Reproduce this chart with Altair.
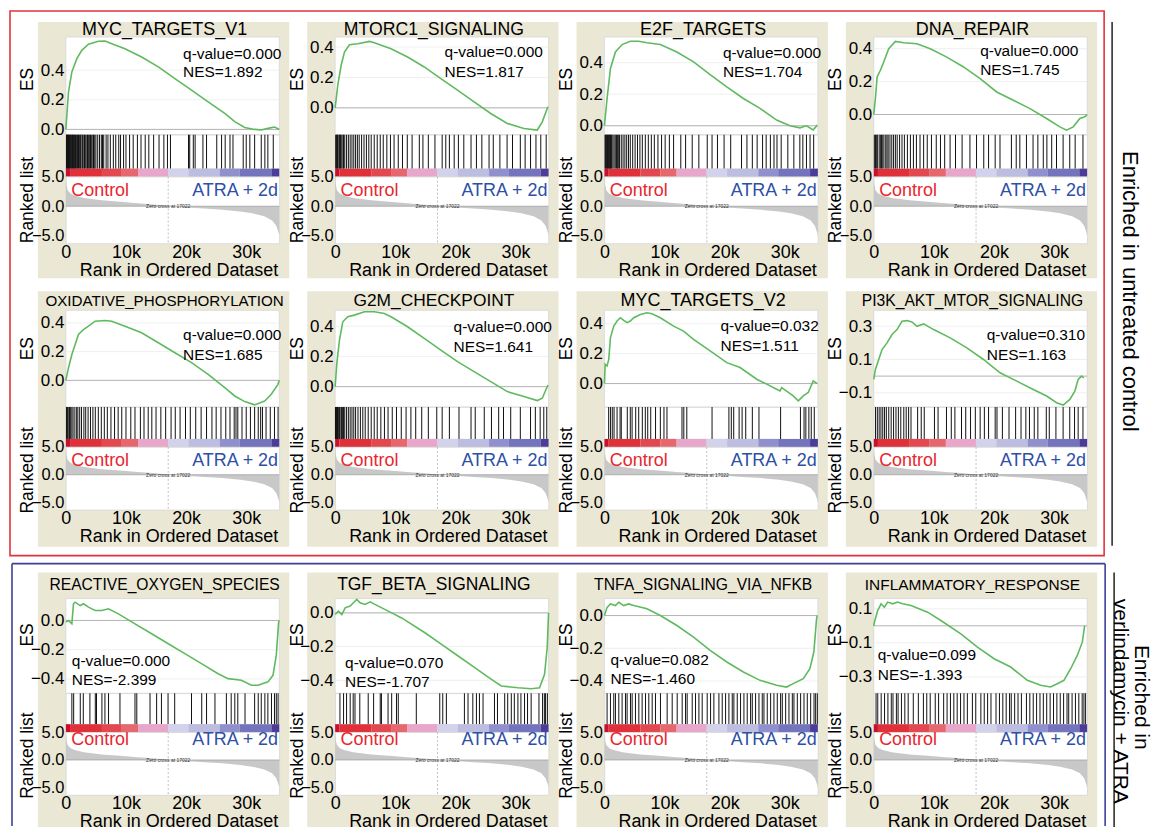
import altair as alt
import pandas as pd

# ---------------- data ----------------
N_GENES_K = 35.5          # length of the ranked list (thousands)
ZERO_CROSS_K = 17.022     # zero cross of the ranked metric (thousands)

PANEL_NAMES = ["MYC_TARGETS_V1", "MTORC1_SIGNALING", "E2F_TARGETS", "DNA_REPAIR",
               "OXIDATIVE_PHOSPHORYLATION", "G2M_CHECKPOINT", "MYC_TARGETS_V2", "PI3K_AKT_MTOR_SIGNALING",
               "REACTIVE_OXYGEN_SPECIES", "TGF_BETA_SIGNALING", "TNFA_SIGNALING_VIA_NFKB", "INFLAMMATORY_RESPONSE"]
Q_VALUES = ["0.000", "0.000", "0.000", "0.000", "0.000", "0.000", "0.032", "0.310",
            "0.000", "0.070", "0.082", "0.099"]
NES_VALUES = ["1.892", "1.817", "1.704", "1.745", "1.685", "1.641", "1.511", "1.163",
              "-2.399", "-1.707", "-1.460", "-1.393"]

# running enrichment score: (rank in thousands, ES)
ES_MYC_V1 = [(0, 0), (0.44, 0.254), (1.0, 0.388), (1.83, 0.478), (2.65, 0.534), (3.76, 0.575), (5.42, 0.595),
             (6.52, 0.597), (7.63, 0.579), (9.84, 0.545), (12.6, 0.489), (15.38, 0.422), (18.14, 0.343),
             (20.9, 0.265), (23.67, 0.186), (26.43, 0.108), (28.09, 0.052), (29.75, 0.013), (31.4, 0.0),
             (32.5, -0.004), (33.62, 0.007), (34.2, 0.012), (34.73, 0.016), (35.5, 0.0)]
ES_MTORC1 = [(0, 0), (0.44, 0.149), (1.0, 0.28), (1.55, 0.367), (2.38, 0.415), (3.76, 0.422), (5.7, 0.437),
             (6.53, 0.428), (9.29, 0.389), (12.05, 0.334), (14.82, 0.269), (17.58, 0.192), (20.35, 0.116),
             (23.11, 0.039), (25.88, -0.037), (28.64, -0.103), (31.4, -0.136), (33.62, -0.146),
             (34.45, -0.092), (35.39, 0.007)]
ES_E2F = [(0, 0), (0.44, 0.173), (1.0, 0.363), (1.83, 0.468), (2.93, 0.515), (4.31, 0.536), (5.7, 0.536),
          (7.08, 0.527), (9.29, 0.515), (12.05, 0.468), (14.82, 0.405), (17.58, 0.325), (20.35, 0.247),
          (23.11, 0.173), (25.88, 0.11), (28.64, 0.036), (30.86, 0.0), (32.52, -0.013), (33.2, -0.004),
          (33.62, 0.0), (34.72, -0.027), (35.39, 0.004)]
ES_DNA_REPAIR = [(0, 0), (0.28, 0.097), (0.56, 0.228), (1.11, 0.269), (1.66, 0.319), (2.49, 0.4), (3.6, 0.444),
                 (4.98, 0.436), (7.18, 0.43), (9.4, 0.4), (12.16, 0.349), (14.93, 0.289), (17.7, 0.218),
                 (20.45, 0.137), (23.22, 0.087), (25.99, 0.036), (28.75, -0.024), (30.96, -0.075),
                 (32.07, -0.095), (33.18, -0.075), (34.28, -0.024), (35.12, -0.014), (35.5, 0.0)]
ES_OXPHOS = [(0, 0), (0.44, 0.088), (1.0, 0.18), (1.55, 0.25), (2.1, 0.319), (2.93, 0.354), (3.76, 0.377),
             (4.87, 0.412), (6.53, 0.417), (7.63, 0.412), (9.84, 0.377), (12.6, 0.331), (15.38, 0.262),
             (18.14, 0.192), (20.9, 0.123), (23.67, 0.042), (26.43, -0.051), (28.09, -0.109),
             (29.75, -0.148), (31.4, -0.171), (33.07, -0.144), (34.17, -0.097), (35.28, -0.028), (35.5, 0.0)]
ES_G2M = [(0, 0), (0.28, 0.154), (0.72, 0.308), (1.27, 0.429), (2.1, 0.462), (3.21, 0.473), (4.87, 0.495),
          (6.53, 0.495), (8.18, 0.484), (9.29, 0.462), (12.05, 0.396), (14.82, 0.319), (17.58, 0.242),
          (20.35, 0.165), (23.11, 0.099), (25.88, 0.033), (28.64, -0.033), (31.4, -0.066), (33.62, -0.092),
          (34.45, -0.077), (35.39, 0.011)]
ES_MYC_V2 = [(0, 0), (0.12, 0.129), (0.44, 0.118), (0.72, 0.162), (1.0, 0.307), (1.55, 0.384), (2.1, 0.418),
             (2.65, 0.44), (3.21, 0.422), (3.76, 0.407), (4.31, 0.418), (4.87, 0.44), (5.97, 0.462),
             (7.08, 0.473), (7.91, 0.467), (9.29, 0.44), (11.5, 0.384), (13.16, 0.351), (14.82, 0.296),
             (17.58, 0.218), (20.35, 0.14), (22.56, 0.107), (25.33, 0.029), (26.99, -0.004), (28.64, -0.038),
             (29.2, -0.049), (29.48, -0.027), (31.4, -0.082), (32.24, -0.116), (33.07, -0.082),
             (33.9, -0.06), (34.72, 0.018), (35.39, 0.0)]
ES_PI3K = [(0, -0.02), (0.28, 0.04), (0.83, 0.1), (1.38, 0.16), (2.21, 0.2), (3.04, 0.25), (3.87, 0.28),
           (4.7, 0.33), (5.53, 0.334), (6.36, 0.326), (7.19, 0.3), (8.3, 0.314), (9.96, 0.28), (12.72, 0.23),
           (15.49, 0.17), (18.25, 0.1), (21.01, 0.02), (23.78, -0.03), (26.54, -0.08), (28.75, -0.12),
           (30.41, -0.16), (31.52, -0.174), (32.62, -0.14), (33.45, -0.09), (34.0, -0.02), (34.56, 0.0),
           (34.95, -0.01)]
ES_ROS = [(0, -0.01), (0.44, 0.0), (1.0, -0.023), (1.27, 0.114), (1.55, 0.125), (2.38, 0.102), (2.93, 0.114),
          (3.76, 0.091), (4.87, 0.068), (5.97, 0.068), (7.08, 0.08), (8.74, 0.045), (11.5, -0.023),
          (14.27, -0.091), (17.03, -0.159), (19.79, -0.227), (22.56, -0.295), (25.33, -0.364),
          (26.99, -0.398), (29.2, -0.409), (30.86, -0.443), (31.96, -0.443), (33.62, -0.42),
          (34.45, -0.375), (35.0, -0.239), (35.39, -0.011), (35.5, 0.0)]
ES_TGF = [(0, -0.01), (0.55, 0.01), (1.11, -0.01), (1.66, 0.03), (2.49, 0.04), (3.04, 0.06), (3.6, 0.08),
          (4.15, 0.06), (4.98, 0.05), (5.81, 0.065), (7.18, 0.04), (9.4, 0.0), (11.06, -0.03),
          (14.93, -0.118), (17.7, -0.187), (20.45, -0.256), (23.22, -0.325), (25.99, -0.394),
          (27.65, -0.434), (30.41, -0.444), (32.62, -0.45), (34.0, -0.444), (34.83, -0.365),
          (35.27, -0.207), (35.5, 0.0)]
ES_TNFA = [(0, 0), (0.44, 0.05), (1.0, 0.071), (1.83, 0.061), (2.38, 0.081), (3.21, 0.061), (4.04, 0.071),
           (4.87, 0.061), (7.08, 0.041), (9.29, 0.0), (12.05, -0.061), (14.82, -0.132), (17.58, -0.213),
           (20.35, -0.284), (23.11, -0.345), (25.88, -0.396), (28.64, -0.426), (30.3, -0.437),
           (31.4, -0.416), (33.07, -0.386), (34.17, -0.325), (34.83, -0.223), (35.28, -0.02), (35.39, 0.0)]
ES_INFLAM = [(0, 0), (0.11, 0.021), (0.66, 0.09), (1.22, 0.129), (1.77, 0.109), (2.32, 0.139), (3.15, 0.129),
             (3.98, 0.139), (4.81, 0.129), (6.19, 0.119), (8.96, 0.08), (11.17, 0.031), (14.49, -0.047),
             (17.25, -0.125), (20.02, -0.193), (22.78, -0.242), (25.55, -0.32), (27.76, -0.349),
             (29.42, -0.359), (30.53, -0.34), (31.64, -0.32), (32.75, -0.252), (33.86, -0.174),
             (34.69, -0.096), (35.08, 0.0)]

# gene-set hit positions (rank in thousands)
HITS_MYC_V1 = [0.1, 0.15, 0.2, 0.3, 0.35, 0.45, 0.5, 0.6, 0.7, 0.8, 0.9, 1.0, 1.1, 1.2, 1.3, 1.4, 1.5, 1.6, 1.8,
               1.9, 2.0, 2.1, 2.3, 2.4, 2.5, 2.7, 2.8, 3.0, 3.1, 3.3, 3.5, 3.6, 3.8, 3.9, 4.1, 4.3, 4.5, 4.6,
               4.8, 5.0, 5.3, 5.6, 5.9, 6.1, 6.3, 6.7, 7.0, 7.4, 7.9, 8.3, 8.8, 9.1, 9.6, 10.0, 10.6, 11.2,
               11.9, 12.5, 13.2, 13.8, 14.6, 15.5, 16.3, 16.9, 17.4, 20.4, 20.6, 21.2, 21.5, 22.8, 23.4, 25.1,
               25.9, 26.5, 27.3, 27.8, 29.5, 30.0, 30.6, 31.4, 32.5, 33.1, 33.6, 34.5]
HITS_MTORC1 = [0.1, 0.2, 0.3, 0.4, 0.5, 0.7, 0.8, 0.9, 1.1, 1.3, 1.4, 1.6, 1.9, 2.2, 2.5, 2.8, 3.1, 3.4, 3.7,
               4.0, 4.4, 4.8, 5.2, 5.6, 6.0, 6.5, 7.0, 7.5, 8.0, 8.6, 9.2, 9.8, 10.5, 11.2, 12.0, 12.8, 14.0,
               14.6, 15.5, 16.6, 17.8, 18.4, 19.0, 19.8, 20.5, 21.4, 22.6, 23.5, 24.4, 25.6, 26.3, 27.4, 28.6,
               29.5, 30.8, 31.6, 32.5, 33.4, 34.2, 35.1]
HITS_E2F = [0.1, 0.2, 0.3, 0.4, 0.5, 0.6, 0.7, 0.8, 0.9, 1.0, 1.1, 1.2, 1.4, 1.6, 1.8, 2.0, 2.2, 2.3, 2.5, 2.8,
            3.1, 3.4, 3.7, 4.0, 4.3, 4.7, 5.1, 5.5, 5.9, 6.3, 6.8, 7.3, 7.8, 8.3, 8.9, 9.5, 10.1, 10.8, 11.5,
            12.7, 13.5, 14.6, 15.7, 17.1, 17.9, 18.8, 19.9, 21.0, 22.8, 23.7, 24.6, 25.4, 26.3, 26.9, 27.6,
            28.2, 28.7, 29.4, 30.5, 31.5, 32.5, 33.0, 33.6, 34.2, 34.8]
HITS_DNA_REPAIR = [0.1, 0.3, 0.5, 0.6, 0.9, 1.1, 1.3, 1.5, 1.7, 2.0, 2.2, 2.4, 2.7, 3.0, 3.3, 3.6, 3.9, 4.3,
                   4.7, 5.1, 5.6, 6.1, 6.6, 7.1, 7.7, 8.3, 8.9, 9.6, 10.4, 11.1, 11.8, 12.7, 13.6, 14.7, 16.0,
                   17.1, 18.3, 19.1, 20.2, 21.0, 22.9, 23.7, 24.3, 25.4, 26.5, 27.3, 28.2, 28.8, 29.6, 30.4,
                   31.5, 32.6, 33.5, 34.8]
HITS_OXPHOS = [0.1, 0.2, 0.3, 0.5, 0.6, 0.8, 1.0, 1.2, 1.5, 1.8, 2.0, 2.3, 2.6, 3.0, 3.3, 3.7, 4.1, 4.5, 4.9,
               5.4, 5.9, 6.4, 6.9, 7.5, 8.1, 8.7, 9.3, 10.0, 10.8, 11.5, 12.4, 13.0, 13.7, 14.3, 15.0, 15.8,
               16.6, 17.5, 18.2, 19.0, 19.9, 20.7, 21.6, 22.5, 23.4, 24.3, 25.0, 25.8, 26.6, 27.3, 28.0, 28.3,
               28.6, 29.3, 30.0, 30.7, 31.4, 32.0, 32.4, 32.7, 33.3, 34.0, 34.7, 35.3]
HITS_G2M = [0.05, 0.1, 0.15, 0.2, 0.3, 0.4, 0.45, 0.6, 0.7, 0.8, 1.0, 1.1, 1.2, 1.4, 1.6, 1.9, 2.2, 2.5, 2.8,
            3.1, 3.4, 3.8, 4.2, 4.6, 5.0, 5.5, 6.0, 6.5, 7.0, 7.6, 8.2, 8.8, 9.5, 10.2, 11.0, 11.8, 12.6, 13.4,
            14.4, 15.5, 16.9, 17.8, 19.0, 20.6, 22.6, 23.3, 24.8, 26.0, 27.2, 28.0, 29.2, 30.8, 32.5, 33.3,
            34.1, 34.7, 35.2]
HITS_MYC_V2 = [0.7, 1.0, 1.3, 1.6, 2.1, 2.6, 2.8, 3.8, 4.3, 4.6, 5.2, 5.7, 6.3, 6.8, 7.2, 7.7, 8.5, 9.3, 9.9,
               10.4, 12.9, 13.2, 13.7, 17.9, 20.7, 21.1, 21.5, 22.4, 22.9, 23.5, 24.6, 25.7, 29.3, 32.6, 33.2,
               33.5, 34.0, 34.4, 34.9]
HITS_PI3K = [0.3, 0.6, 0.9, 1.2, 1.5, 1.8, 2.1, 2.5, 2.9, 3.3, 3.7, 4.1, 4.5, 5.0, 5.4, 5.8, 6.2, 7.3, 7.9,
             8.4, 10.1, 10.7, 12.1, 12.9, 13.5, 14.6, 15.3, 16.1, 16.9, 17.7, 18.4, 19.1, 20.2, 20.5, 21.4,
             22.5, 23.6, 24.5, 25.3, 25.9, 26.7, 27.3, 28.7, 29.2, 30.3, 31.5, 32.6, 33.4, 34.0, 34.8]
HITS_ROS = [1.0, 1.3, 2.4, 2.9, 4.0, 4.9, 5.1, 6.0, 6.5, 7.1, 9.0, 11.5, 11.8, 14.0, 15.1, 15.9, 17.0, 18.1,
            20.9, 22.6, 23.4, 24.8, 26.7, 27.5, 28.1, 28.6, 29.8, 31.4, 32.0, 32.5, 33.1, 33.6, 34.2, 34.7,
            35.0, 35.3]
HITS_TGF = [0.8, 1.4, 1.9, 2.5, 3.0, 3.3, 4.1, 5.5, 6.4, 7.5, 7.7, 8.8, 9.4, 10.2, 10.5, 13.5, 17.4, 17.9,
            18.5, 21.5, 22.1, 22.9, 23.5, 24.0, 24.6, 26.5, 27.0, 28.2, 28.7, 29.3, 29.8, 30.4, 30.9, 31.5,
            32.0, 32.6, 33.9, 34.5, 34.8, 35.0, 35.3]
HITS_TNFA = [0.44, 1.0, 1.55, 1.83, 2.39, 2.94, 3.5, 3.77, 4.33, 4.61, 5.16, 5.72, 6.27, 6.83, 7.38, 7.94,
             8.49, 9.32, 10.43, 11.27, 12.1, 12.93, 13.49, 13.76, 14.6, 15.15, 15.71, 16.26, 17.09, 17.65,
             18.2, 19.04, 19.59, 20.15, 20.7, 21.26, 21.53, 22.09, 22.64, 23.2, 23.75, 24.31, 24.59, 25.14,
             25.7, 26.25, 26.53, 27.08, 27.64, 28.19, 28.75, 29.3, 29.58, 30.14, 30.69, 31.25, 31.52, 32.08,
             32.63, 33.19, 33.74, 34.3, 34.86, 35.13, 35.41]
HITS_INFLAM = [0.39, 0.67, 1.24, 1.8, 2.36, 2.92, 3.2, 3.77, 4.05, 4.61, 5.17, 5.73, 6.58, 7.42, 8.26, 8.82,
               9.39, 10.23, 10.79, 11.63, 12.2, 12.76, 13.32, 13.88, 14.44, 15.01, 15.57, 16.41, 16.97, 17.82,
               18.38, 18.94, 19.5, 20.34, 20.91, 21.47, 22.03, 22.59, 22.87, 23.44, 24.0, 24.56, 25.4, 25.96,
               26.53, 27.09, 27.65, 28.21, 28.77, 29.34, 29.9, 30.46, 31.02, 31.58, 32.15, 32.43, 32.99,
               33.55, 34.11, 34.67, 34.96, 35.24]

# ranked-list metric (rank in thousands, metric) shared by all panels
RANKED_METRIC = [(0, 4.6), (0.1, 3.6), (0.3, 2.7), (0.8, 2.1), (1.5, 1.8), (3, 1.4), (6, 1.0), (9, 0.75),
                 (12, 0.5), (15, 0.25), (17.022, 0), (20, -0.2), (23, -0.4), (26, -0.6), (29, -0.9),
                 (31, -1.2), (33, -1.7), (34.3, -2.4), (35, -3.3), (35.3, -4.2), (35.5, -5.0)]

# phenotype colour bar segments
CBAR_EDGES_K = [0, 0.7, 6.0, 9.3, 12.0, 17.0, 20.4, 25.6, 28.9, 34.2, 35.5]
CBAR_COLORS = ["#c8102e", "#e0303a", "#e34850", "#e6676d", "#e8a6cb", "#d2d2ec", "#bdbde2", "#9090cf",
               "#7474be", "#4a3c98"]

ES_CURVES = [ES_MYC_V1, ES_MTORC1, ES_E2F, ES_DNA_REPAIR, ES_OXPHOS, ES_G2M, ES_MYC_V2, ES_PI3K,
             ES_ROS, ES_TGF, ES_TNFA, ES_INFLAM]
HIT_LISTS = [HITS_MYC_V1, HITS_MTORC1, HITS_E2F, HITS_DNA_REPAIR, HITS_OXPHOS, HITS_G2M, HITS_MYC_V2,
             HITS_PI3K, HITS_ROS, HITS_TGF, HITS_TNFA, HITS_INFLAM]

# ---------------- layout & style ----------------
FONT = "Liberation Sans"
TAN = "#ebe7d5"
GREEN = "#5fba5f"
RED_TXT = "#e8262e"
BLUE_TXT = "#2d4fa6"
RED_BOX = "#e4323c"
BLUE_BOX = "#3d3f98"

W = 214
COL_GAP = 56
CBAR_H = 8
ROW_ES_H = [98, 97, 95]
ROW_HIT_H = [34, 32, 31]
ROW_RANK_H = [67, 63, 63]
ROW_GAPS = [67, 89]
ROW_TOP_PAD = [15, 19, 26]
ROW_BOT_PAD = [35, 37, 32]
ROW_TITLE_BASE = [2, 4, 9]
ROW_ES_TITLE_Y = [42, 38, 36]
ROW_LABEL_Y = [2.65, 2.5, 3.6]
RANK_DOMAIN = [-6.3, 5.0]

ES_DOMAINS = [[-0.036, 0.624], [-0.177, 0.466], [-0.057, 0.563], [-0.123, 0.471],
              [-0.186, 0.488], [-0.135, 0.505], [-0.157, 0.49], [-0.186, 0.396],
              [-0.498, 0.15], [-0.477, 0.085], [-0.475, 0.104], [-0.396, 0.16]]
ES_TICKS = [[0, 0.2, 0.4]] * 7 + [[-0.1, 0.1, 0.3]] + [[-0.4, -0.2, 0]] * 3 + [[-0.3, -0.1, 0.1]]
TITLE_SIZES = [18, 17.7, 18, 18, 15.2, 17.4, 18, 15.7, 15.7, 17.5, 15.7, 15.5]
STAT_POS = [(19.5, 0.512, 0.388), (18.2, 0.367, 0.236), (19.7, 0.464, 0.338), (17.7, 0.384, 0.269),
            (19.5, 0.319, 0.176), (19.7, 0.396, 0.264), (19.3, 0.384, 0.251), (18.8, 0.246, 0.126),
            (1.0, -0.28, -0.409), (1.66, -0.296, -0.408), (1.0, -0.274, -0.39), (0.67, -0.17, -0.287)]

WHITE_VIEW = alt.ViewBackground(fill="white", stroke="#d6d6d6", strokeWidth=0.8)
BARE_VIEW = alt.ViewBackground(fill="transparent", stroke="transparent")


def dot():
    return pd.DataFrame({"k": [0]})


def decorations(i):
    layers = []
    if i == 0:
        layers.append(alt.Chart(dot()).mark_rect(fillOpacity=0, stroke=RED_BOX, strokeWidth=1.6).encode(
            x=alt.value(-56), x2=alt.value(1041), y=alt.value(-26), y2=alt.value(520)))
    if i == 8:
        for (x1, x2, y1, y2) in [(-54, 1042, -35, -35), (-54, -54, -35, 228), (1042, 1042, -35, 228)]:
            layers.append(alt.Chart(dot()).mark_rule(color=BLUE_BOX, strokeWidth=1.6).encode(
                x=alt.value(x1), x2=alt.value(x2), y=alt.value(y1), y2=alt.value(y2)))
    if i == 3:
        layers.append(alt.Chart(dot()).mark_rule(color="#222", strokeWidth=1.5).encode(
            x=alt.value(239), x2=alt.value(239), y=alt.value(-15), y2=alt.value(510)))
        layers.append(alt.Chart(pd.DataFrame({"t": ["Enriched in untreated control"]})).mark_text(
            angle=90, fontSize=22, align="center", baseline="middle", color="black").encode(
            x=alt.value(257), y=alt.value(255), text="t:N"))
    if i == 11:
        layers.append(alt.Chart(dot()).mark_rule(color="#222", strokeWidth=1.5).encode(
            x=alt.value(241), x2=alt.value(241), y=alt.value(-26), y2=alt.value(229)))
        layers.append(alt.Chart(pd.DataFrame({"t": ["verlindamycin + ATRA"]})).mark_text(
            angle=90, fontSize=21, align="center", baseline="middle", color="black").encode(
            x=alt.value(247), y=alt.value(103), text="t:N"))
        layers.append(alt.Chart(pd.DataFrame({"t": ["Enriched in"]})).mark_text(
            angle=90, fontSize=21, align="center", baseline="middle", color="black").encode(
            x=alt.value(268), y=alt.value(99), text="t:N"))
    return layers


def build_panel(i):
    r = i // 4
    H = ROW_ES_H[r]
    HH = ROW_HIT_H[r]
    RH = ROW_RANK_H[r]
    total = H + HH + CBAR_H + RH
    xs = alt.Scale(domain=[0, N_GENES_K], nice=False, zero=False)
    ys = alt.Scale(domain=ES_DOMAINS[i], nice=False, zero=False)

    # ---- ES panel ----
    tan = alt.Chart(dot()).mark_rect(fill=TAN).encode(
        x=alt.value(-28), x2=alt.value(W + 10),
        y=alt.value(-ROW_TOP_PAD[r]), y2=alt.value(total + ROW_BOT_PAD[r]))
    white = alt.Chart(dot()).mark_rect(fill="white", stroke="#d6d6d6", strokeWidth=0.8).encode(
        x=alt.value(0), x2=alt.value(W), y=alt.value(0), y2=alt.value(H))
    es_axis = alt.Axis(values=ES_TICKS[i], format=".1f", title="ES", labelFontSize=17, titleFontSize=17.5,
                       titleX=-29, titleY=ROW_ES_TITLE_Y[r], labelPadding=2, zindex=1)
    grid = alt.Chart(pd.DataFrame({"es": ES_TICKS[i]})).mark_rule(color="#ebebeb", strokeWidth=0.8).encode(
        y=alt.Y("es:Q", scale=ys, axis=es_axis))
    zero = alt.Chart(pd.DataFrame({"es": [0]})).mark_rule(color="#b4b4b4", strokeWidth=1).encode(
        y=alt.Y("es:Q", scale=ys, axis=es_axis))
    curve = pd.DataFrame(ES_CURVES[i], columns=["rank", "es"])
    line = alt.Chart(curve).mark_line(color=GREEN, strokeWidth=1.6).encode(
        x=alt.X("rank:Q", scale=xs, axis=None),
        y=alt.Y("es:Q", scale=ys, axis=es_axis))
    sx, sy1, sy2 = STAT_POS[i]
    stats = pd.DataFrame({"rank": [sx, sx], "es": [sy1, sy2],
                          "t": [f"q-value={Q_VALUES[i]}", f"NES={NES_VALUES[i]}"]})
    stat_txt = alt.Chart(stats).mark_text(align="left", baseline="middle", fontSize=15.5, color="black").encode(
        x=alt.X("rank:Q", scale=xs, axis=None), y=alt.Y("es:Q", scale=ys, axis=es_axis), text="t:N")
    title = alt.Chart(pd.DataFrame({"t": [PANEL_NAMES[i]]})).mark_text(
        align="center", baseline="alphabetic", fontSize=TITLE_SIZES[i], color="black").encode(
        x=alt.value(W / 2 - 8), y=alt.value(-ROW_TITLE_BASE[r]), text="t:N")
    es = alt.layer(tan, white, grid, zero, line, stat_txt, title, *decorations(i)).properties(
        width=W, height=H, view=BARE_VIEW)

    # ---- hits ----
    hits = alt.Chart(pd.DataFrame({"rank": HIT_LISTS[i]})).mark_rule(color="#111", strokeWidth=1).encode(
        x=alt.X("rank:Q", scale=xs, axis=None), y=alt.value(0), y2=alt.value(HH)
    ).properties(width=W, height=HH, view=WHITE_VIEW)

    # ---- colour bar ----
    cb = pd.DataFrame({"a": CBAR_EDGES_K[:-1], "b": CBAR_EDGES_K[1:], "c": CBAR_COLORS})
    cbar = alt.Chart(cb).mark_rect().encode(
        x=alt.X("a:Q", scale=xs, axis=None), x2="b:Q", y=alt.value(0), y2=alt.value(CBAR_H),
        color=alt.Color("c:N", scale=None)
    ).properties(width=W, height=CBAR_H, view=BARE_VIEW)

    # ---- ranked list ----
    yr = alt.Scale(domain=RANK_DOMAIN, nice=False, zero=False)
    x_axis = alt.Axis(values=[0, 10, 20, 30], labelExpr="datum.value == 0 ? '0' : datum.value + 'k'",
                      title="Rank in Ordered Dataset", labelFontSize=18, titleFontSize=18, labelPadding=0,
                      titlePadding=0, labelFlush=False, titleX=W / 2 + 6)
    y_axis = alt.Axis(values=[-5, 0, 5], format=".1f", title="Ranked list", labelFontSize=16.5,
                      titleFontSize=17.5, titleX=-29, titleY=23, labelPadding=2)
    X = alt.X("rank:Q", scale=xs, axis=x_axis)
    Y = alt.Y("metric:Q", scale=yr, axis=y_axis)
    rk = pd.DataFrame(RANKED_METRIC, columns=["rank", "metric"])
    area = alt.Chart(rk).mark_area(color="#c8c8c8").encode(x=X, y=Y, y2=alt.datum(0))
    base0 = alt.Chart(pd.DataFrame({"metric": [0]})).mark_rule(color="#9a9a9a", strokeWidth=0.7).encode(y=Y)
    zc = alt.Chart(pd.DataFrame({"rank": [ZERO_CROSS_K]})).mark_rule(
        color="#b0b0b0", strokeWidth=0.8, strokeDash=[2, 2]).encode(x=X)
    zc_txt = alt.Chart(pd.DataFrame({"rank": [ZERO_CROSS_K], "metric": [0], "t": ["Zero cross at 17022"]})).mark_text(
        fontSize=5, color="#333", align="center", baseline="middle").encode(x=X, y=Y, text="t:N")
    grp = pd.DataFrame({"rank": [0.9, 35.3], "metric": [ROW_LABEL_Y[r]] * 2, "t": ["Control", "ATRA + 2d"]})
    ctrl = alt.Chart(grp.iloc[[0]]).mark_text(align="left", baseline="middle", fontSize=18, color=RED_TXT).encode(
        x=X, y=Y, text="t:N")
    atra = alt.Chart(grp.iloc[[1]]).mark_text(align="right", baseline="middle", fontSize=18, color=BLUE_TXT).encode(
        x=X, y=Y, text="t:N")
    ranked = alt.layer(area, base0, zc, zc_txt, ctrl, atra).properties(width=W, height=RH, view=WHITE_VIEW)

    return [es, hits, cbar, ranked]


def spacer(h):
    return alt.Chart(dot()).mark_point(opacity=0, size=1).encode(
        x=alt.value(0), y=alt.value(0)).properties(width=W, height=h, view=BARE_VIEW)


panels = [build_panel(i) for i in range(12)]
cells = []
for r in range(3):
    for part in range(4):
        for c in range(4):
            cells.append(panels[4 * r + c][part])
    if r < 2:
        cells.extend(spacer(ROW_GAPS[r]) for _ in range(4))

chart = alt.concat(*cells, columns=4, spacing={"row": 0, "column": COL_GAP}, bounds="flush").properties(padding=0)

chart = chart.configure(font=FONT).configure_axis(
    labelColor="black", titleColor="black", titleFontWeight="normal", labelFont=FONT, titleFont=FONT,
    grid=False, ticks=False, domain=False
).configure_text(font=FONT)

chart.save("out.html", embed_options={"renderer": "svg", "actions": False})
